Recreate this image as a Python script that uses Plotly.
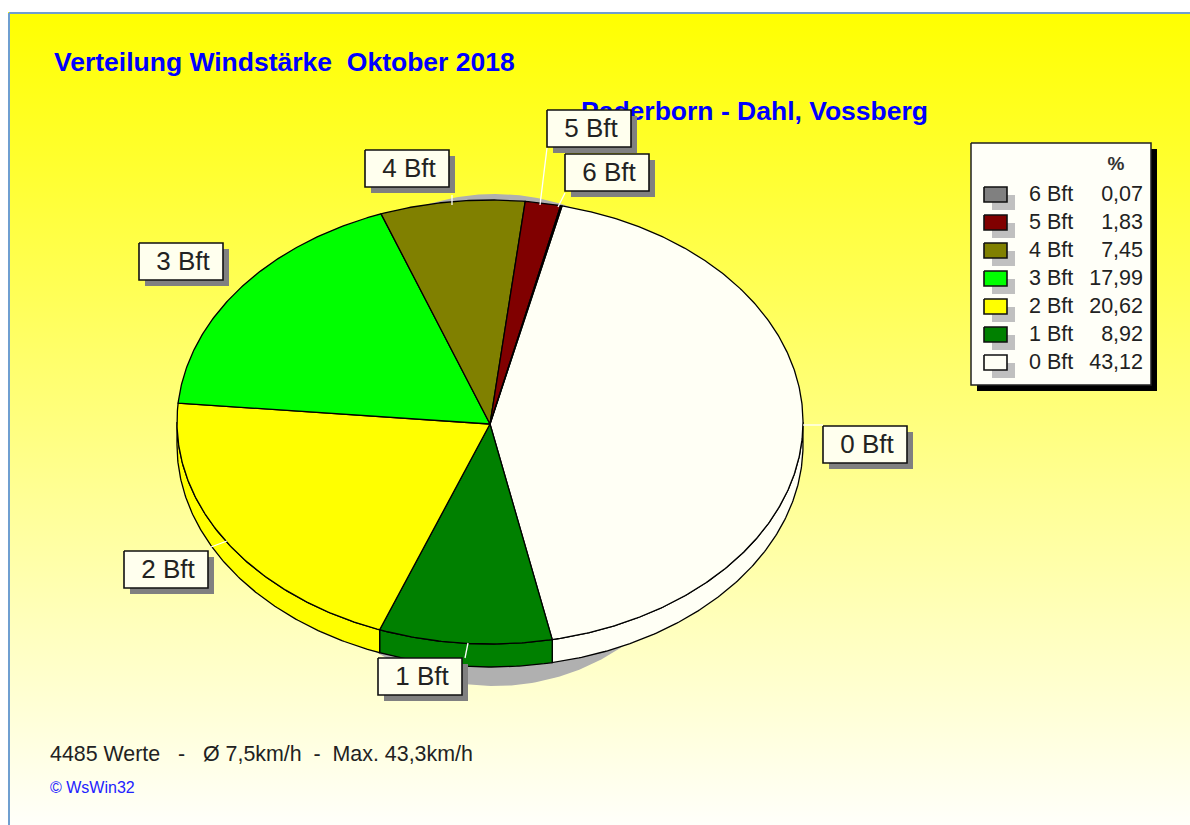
import numpy as np
import plotly.graph_objects as go

# ---- data ----
categories = ["0 Bft", "1 Bft", "2 Bft", "3 Bft", "4 Bft", "5 Bft", "6 Bft"]
percent = [43.12, 8.92, 20.62, 17.99, 7.45, 1.83, 0.07]
percent_labels = ["43,12", "8,92", "20,62", "17,99", "7,45", "1,83", "0,07"]
colors = ["#fffff5", "#008000", "#ffff00", "#00ff00", "#808000", "#800000", "#808080"]

title_text = "Verteilung Windstärke  Oktober 2018"
subtitle_text = "Paderborn - Dahl, Vossberg"
stats_text = "4485 Werte   -   Ø 7,5km/h  -  Max. 43,3km/h"
credit_text = "© WsWin32"

# ---- layout constants (axis units equal window pixels) ----
W, H = 1190, 825
CX, CY, RX, RY, DEPTH = 490, 422, 313, 222, 23
START = 13.3
FONT = "Liberation Sans"
BLUE = "#0000ff"
BOX_W, BOX_H = 84, 37
box_left_top = {"0 Bft": (823, 426), "1 Bft": (378, 658), "2 Bft": (124, 551), "3 Bft": (139, 243),
                "4 Bft": (365, 150), "5 Bft": (547, 110), "6 Bft": (565, 154)}
leaders = [((803, 425), (823, 425)), ((468, 643), (465, 658)), ((211, 547), (227, 541)),
           ((452, 195), (452, 205)), ((547, 148), (540, 205)), ((565, 193), (558, 207))]

fig = go.Figure()


def poly(xs, ys, fill, line=None, width=1.3):
    fig.add_trace(go.Scatter(
        x=list(xs), y=list(ys), mode="lines", fill="toself", fillcolor=fill,
        line=dict(color=line if line else fill, width=width if line else 0),
        hoverinfo="skip", showlegend=False))


def rect(x0, y0, x1, y1, fill, line=None, width=1.3):
    poly([x0, x1, x1, x0, x0], [y0, y0, y1, y1, y0], fill, line, width)


def seg(p, q, color, width):
    fig.add_trace(go.Scatter(x=[p[0], q[0]], y=[p[1], q[1]], mode="lines",
                             line=dict(color=color, width=width), hoverinfo="skip", showlegend=False))


def text(x, y, s, size, color, pos="middle right", bold=False):
    t = f"<b>{s}</b>" if bold else s
    fig.add_trace(go.Scatter(x=[x], y=[y + 2], mode="text", text=[t], textposition=pos,
                             textfont=dict(family=FONT, size=size, color=color),
                             hoverinfo="skip", showlegend=False))


def arc(a0, a1, dy=0.0):
    t = np.radians(np.linspace(a0, a1, max(int(abs(a1 - a0) * 2), 2)))
    return CX + RX * np.sin(t), CY - RY * np.cos(t) + dy


# background with vertical yellow-to-white gradient
fig.add_trace(go.Scatter(
    x=[8, W, W, 8, 8], y=[12, 12, H, H, 12], mode="lines", fill="toself",
    line=dict(width=0), hoverinfo="skip", showlegend=False,
    fillgradient=dict(type="vertical", colorscale=[[0, "#fffffa"], [1, "#ffff00"]])))
seg((9, H), (9, 13), "#6f9fd0", 2)
seg((9, 13), (W, 13), "#6f9fd0", 2)

text(54, 62, title_text, 26.5, BLUE, bold=True)
text(581, 111, subtitle_text, 26.5, BLUE, bold=True)

# pie shadow
t = np.radians(np.linspace(0, 360, 361))
poly(495 + 235 * np.sin(t), 440 - 246 * np.cos(t), "#b0b0b0")

# slice angles from the values
total = sum(percent)
edges = START + np.concatenate([[0], np.cumsum(percent)]) * 360 / total

# side wall (front half only)
for i, c in enumerate(colors):
    a0, a1 = max(edges[i], 90), min(edges[i + 1], 270)
    if a1 <= a0:
        continue
    x, y = arc(a0, a1)
    xb, yb = arc(a0, a1, DEPTH)
    poly(np.r_[x, xb[::-1], x[0]], np.r_[y, yb[::-1], y[0]], c, "#000000")

# top faces
for i, c in enumerate(colors):
    x, y = arc(edges[i], edges[i + 1])
    poly(np.r_[CX, x, CX], np.r_[CY + 2, y, CY + 2], c, "#000000")

# leader lines
for p, q in leaders:
    seg(p, q, "#ffffff", 1.3)

# data labels
for name in categories[::-1]:
    x0, y0 = box_left_top[name]
    rect(x0 + 6, y0 + 6, x0 + BOX_W + 6, y0 + BOX_H + 6, "#808080")
    rect(x0, y0, x0 + BOX_W, y0 + BOX_H, "#ffffee", "#111111", 1.6)
    text(x0 + BOX_W / 2 + 2, y0 + BOX_H / 2, name, 26, "#222222", "middle center")

# legend
rect(977, 149, 1157, 391, "#000000")
rect(971, 143, 1151, 385, "#fffff8", "#222222", 1.5)
text(1116, 163, "%", 19, "#333333", "middle center", bold=True)
for k, i in enumerate(range(len(categories) - 1, -1, -1)):
    ry = 194 + 28 * k
    rect(992, ry + 1, 1015, ry + 16, "#c0c0c0")
    rect(984, ry - 7, 1007, ry + 8, colors[i], "#111111", 1.6)
    text(1029, ry, categories[i], 21.5, "#222222")
    text(1143, ry, percent_labels[i], 21.5, "#222222", "middle left")

text(50, 754, stats_text, 21.4, "#222222")
text(50, 787, credit_text, 16, "#2222ff")

fig.update_layout(
    width=W, height=H, autosize=False,
    margin=dict(l=0, r=0, t=0, b=0), showlegend=False,
    paper_bgcolor="#ffffff", plot_bgcolor="#ffffff",
    xaxis=dict(range=[0, W], visible=False, fixedrange=True),
    yaxis=dict(range=[H, 0], visible=False, fixedrange=True),
)
fig.write_html(
    "out.html", config={"displayModeBar": False},
    post_script="document.body.style.margin='0';document.body.style.overflow='hidden';",
)
